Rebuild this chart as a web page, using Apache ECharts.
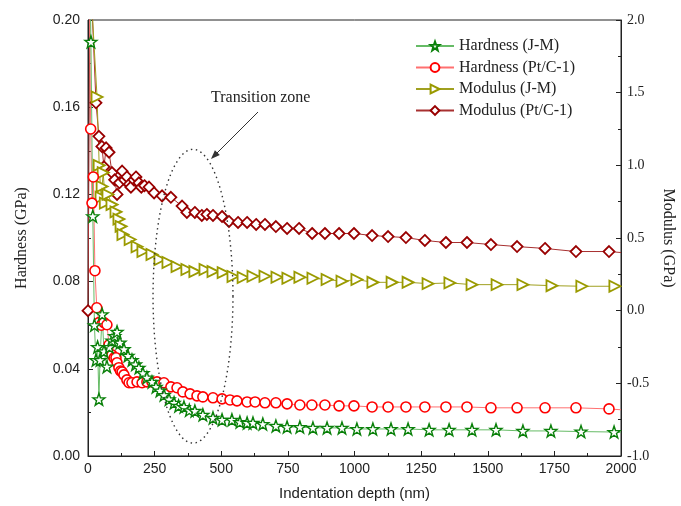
<!DOCTYPE html>
<html>
<head>
<meta charset="utf-8">
<script src="https://cdn.jsdelivr.net/npm/echarts@6/dist/echarts.min.js"></script>
<style>
  html, body { margin: 0; padding: 0; background: #fff; }
  #chart { width: 681px; height: 506px; }
</style>
</head>
<body>
<div id="chart"></div>
<script>
// depth (nm) / value pairs
var depthHardJM = [3, 11, 18, 24, 30, 36, 41, 45, 53, 60, 71, 80, 90, 100, 109, 120, 135, 150, 165, 178, 191, 206, 221, 240, 255, 270, 285, 304, 323, 340, 360, 380, 401, 431, 469, 503, 540, 570, 597, 619, 656, 705, 747, 795, 844, 897, 953, 1009, 1069, 1137, 1201, 1280, 1355, 1441, 1531, 1632, 1737, 1850, 1974, 2000]
var hardJM = [0.26, 0.190, 0.11, 0.06, 0.044, 0.05, 0.026, 0.044, 0.065, 0.048, 0.041, 0.050, 0.053, 0.055, 0.057, 0.052, 0.049, 0.046, 0.044, 0.042, 0.0405, 0.038, 0.036, 0.034, 0.0317, 0.030, 0.028, 0.026, 0.0244, 0.023, 0.0225, 0.021, 0.0207, 0.0189, 0.0175, 0.0166, 0.0166, 0.0156, 0.0152, 0.0152, 0.0147, 0.0138, 0.0133, 0.0133, 0.0129, 0.0129, 0.0129, 0.0124, 0.0124, 0.0124, 0.0124, 0.0120, 0.0120, 0.0120, 0.0120, 0.0115, 0.0115, 0.0112, 0.0110, 0.0108]

var depthHardPt = [2, 10, 15, 20, 26, 33, 41, 50, 60, 71, 79, 90, 98, 105, 109, 116, 122, 128, 135, 146, 154, 165, 184, 203, 221, 240, 259, 285, 311, 334, 356, 383, 409, 431, 469, 503, 533, 559, 597, 627, 664, 705, 747, 795, 840, 889, 942, 998, 1066, 1126, 1193, 1264, 1343, 1422, 1512, 1610, 1715, 1831, 1955, 2000]
var hardPt = [0.26, 0.15, 0.116, 0.128, 0.085, 0.068, 0.0612, 0.060, 0.0612, 0.0602, 0.051, 0.0464, 0.045, 0.0451, 0.0428, 0.0405, 0.039, 0.0386, 0.0372, 0.0349, 0.0336, 0.0336, 0.034, 0.0336, 0.034, 0.034, 0.034, 0.0336, 0.0317, 0.0313, 0.0294, 0.0285, 0.0276, 0.0271, 0.0267, 0.0262, 0.0257, 0.0253, 0.0248, 0.0248, 0.0244, 0.0244, 0.0239, 0.0234, 0.0234, 0.0234, 0.0230, 0.0230, 0.0225, 0.0225, 0.0225, 0.0225, 0.0225, 0.0225, 0.0221, 0.0221, 0.0221, 0.0221, 0.0216, 0.0212]

var depthModJM = [5, 34, 42, 49, 53, 57, 65, 75, 90, 105, 116, 124, 131, 158, 184, 206, 240, 270, 300, 334, 371, 401, 439, 469, 507, 544, 582, 619, 664, 709, 750, 795, 844, 897, 953, 1009, 1069, 1141, 1201, 1276, 1358, 1441, 1535, 1632, 1741, 1853, 1977, 2000]
var modJM = [2.4, 1.47, 1.0, 0.78, 0.855, 0.95, 0.74, 0.80, 0.73, 0.68, 0.63, 0.58, 0.524, 0.49, 0.44, 0.407, 0.386, 0.352, 0.331, 0.303, 0.283, 0.269, 0.283, 0.269, 0.262, 0.235, 0.228, 0.237, 0.237, 0.230, 0.223, 0.230, 0.223, 0.214, 0.203, 0.214, 0.195, 0.195, 0.195, 0.186, 0.191, 0.179, 0.179, 0.179, 0.172, 0.168, 0.168, 0.17]

var depthModPt = [0, 8, 30, 41, 52, 60, 68, 79, 90, 100, 109, 118, 128, 137, 146, 155, 161, 172, 180, 191, 200, 212, 229, 248, 278, 311, 353, 371, 401, 427, 446, 469, 503, 529, 563, 597, 631, 664, 705, 747, 792, 841, 889, 942, 998, 1066, 1126, 1193, 1264, 1343, 1422, 1512, 1610, 1715, 1831, 1955, 2000]
var modPt = [0.0, 2.4, 1.43, 1.20, 1.13, 0.99, 1.12, 1.09, 0.95, 0.90, 0.80, 0.88, 0.96, 0.90, 0.92, 0.87, 0.85, 0.90, 0.92, 0.88, 0.85, 0.86, 0.85, 0.81, 0.79, 0.78, 0.72, 0.676, 0.676, 0.655, 0.662, 0.655, 0.648, 0.614, 0.607, 0.607, 0.593, 0.593, 0.579, 0.566, 0.566, 0.531, 0.531, 0.531, 0.531, 0.517, 0.510, 0.503, 0.483, 0.469, 0.469, 0.455, 0.441, 0.428, 0.407, 0.407, 0.40]

var seriesNames = ['Hardness (J-M)', 'Hardness (Pt/C-1)', 'Modulus (J-M)', 'Modulus (Pt/C-1)']

// last point of each curve is only the line running out to the frame
function pairs(xs, ys) {
    let out = []
    for (let i = 0; i < xs.length; i++) {
        if (i == xs.length - 1) out.push({value: [xs[i], ys[i]], symbol: 'none'})
        else out.push([xs[i], ys[i]])
    }
    return out
}

var star = 'path://M0,-10 L2.35,-3.24 9.51,-3.09 3.8,1.24 5.88,8.09 0,4 -5.88,8.09 -3.8,1.24 -9.51,-3.09 -2.35,-3.24Z'
var serif = 'Liberation Serif'
var sans = 'Liberation Sans'

function mkSeries(name, data, yIdx, symbol, size, rotate, mark, line, bw) {
    return {
        name: name,
        type: 'line',
        yAxisIndex: yIdx,
        data: data,
        symbol: symbol,
        symbolSize: size,
        symbolRotate: rotate,
        showAllSymbol: true,
        clip: true,
        color: mark,
        lineStyle: {width: 1, color: line},
        itemStyle: {color: '#fff', borderColor: mark, borderWidth: bw}
    }
}

let myChart = echarts.init(document.getElementById('chart'))
let option = {
    animation: false,
    grid: {left: 88, right: 60, top: 20, bottom: 50, outerBoundsMode: 'none', show: true, borderColor: '#222', borderWidth: 1},
    legend: {
        orient: 'vertical',
        left: 410,
        top: 33,
        itemWidth: 38,
        itemHeight: 11,
        itemGap: 5.5,
        data: seriesNames,
        itemStyle: {color: '#fff'},
        textStyle: {fontFamily: serif, fontSize: 16, color: '#222'}
    },
    xAxis: {
        type: 'value',
        min: 0,
        max: 2000,
        interval: 250,
        name: 'Indentation depth (nm)',
        nameLocation: 'middle',
        nameGap: 30,
        nameTextStyle: {fontFamily: sans, fontSize: 15, color: '#222'},
        axisLine: {lineStyle: {color: '#222'}},
        axisTick: {inside: true, length: 5, lineStyle: {color: '#222'}},
        minorTick: {show: true, splitNumber: 2, length: 3, lineStyle: {color: '#222'}},
        axisLabel: {fontFamily: sans, fontSize: 14, color: '#222', margin: 6, formatter: v => String(v)},
        splitLine: {show: false}
    },
    yAxis: [{
        type: 'value',
        min: 0,
        max: 0.2,
        interval: 0.04,
        name: 'Hardness (GPa)',
        nameLocation: 'middle',
        nameGap: 58,
        nameTextStyle: {fontFamily: serif, fontSize: 16, color: '#222'},
        axisLine: {show: true, lineStyle: {color: '#222'}},
        axisTick: {show: true, inside: true, length: 5, lineStyle: {color: '#222'}},
        minorTick: {show: true, splitNumber: 2, length: 3, lineStyle: {color: '#222'}},
        axisLabel: {fontFamily: sans, fontSize: 14, color: '#222', margin: 8, formatter: v => v.toFixed(2)},
        splitLine: {show: false}
    }, {
        type: 'value',
        position: 'right',
        min: -1,
        max: 2,
        interval: 0.5,
        name: 'Modulus (GPa)',
        nameLocation: 'middle',
        nameRotate: -90,
        nameGap: 38,
        nameTextStyle: {fontFamily: serif, fontSize: 16, color: '#222'},
        axisLine: {show: true, lineStyle: {color: '#222'}},
        axisTick: {show: true, inside: true, length: 5, lineStyle: {color: '#222'}},
        minorTick: {show: true, splitNumber: 2, length: 3, lineStyle: {color: '#222'}},
        axisLabel: {fontFamily: serif, fontSize: 14, color: '#222', margin: 6, formatter: v => v.toFixed(1)},
        splitLine: {show: false}
    }],
    series: [
        mkSeries(seriesNames[3], pairs(depthModPt, modPt), 1, 'diamond', 11, 0, '#990000', '#a83030', 1.8),
        mkSeries(seriesNames[2], pairs(depthModJM, modJM), 1, 'triangle', 11, -90, '#9a9a00', '#a0a020', 1.8),
        mkSeries(seriesNames[1], pairs(depthHardPt, hardPt), 0, 'circle', 10, 0, '#ff0000', '#ff7070', 1.6),
        mkSeries(seriesNames[0], pairs(depthHardJM, hardJM), 0, star, 12, 0, '#0a800a', '#66bb66', 1.4)
    ]
}
myChart.setOption(option)

// transition zone annotation: dotted ellipse around ~400 nm, arrow and label
function annotate() {
    let c = myChart.convertToPixel({gridIndex: 0}, [394, 0.0733])
    let e = myChart.convertToPixel({gridIndex: 0}, [394 + 150, 0.0733 + 0.0674])
    let rx = e[0] - c[0], ry = c[1] - e[1]
    let pts = []
    for (let i = 0; i <= 96; i++) {
        let t = i / 96 * Math.PI * 2
        pts.push([c[0] + rx * Math.cos(t), c[1] + ry * Math.sin(t)])
    }
    let a0 = [258, 112], a1 = [211, 159]
    let dx = a1[0] - a0[0], dy = a1[1] - a0[1]
    let len = Math.sqrt(dx * dx + dy * dy)
    let ux = dx / len, uy = dy / len
    let head = [
        a1,
        [a1[0] - ux * 9 - uy * 3.5, a1[1] - uy * 9 + ux * 3.5],
        [a1[0] - ux * 9 + uy * 3.5, a1[1] - uy * 9 - ux * 3.5]
    ]
    myChart.setOption({
        graphic: [
            {type: 'polyline', shape: {points: pts}, style: {fill: null, stroke: '#333', lineWidth: 1.4, lineDash: [1.5, 3.5]}, z: 50},
            {type: 'line', shape: {x1: a0[0], y1: a0[1], x2: a1[0] - ux * 6, y2: a1[1] - uy * 6}, style: {stroke: '#333', lineWidth: 1}, z: 50},
            {type: 'polygon', shape: {points: head}, style: {fill: '#333'}, z: 50},
            {type: 'text', left: 211, top: 90, style: {text: 'Transition zone', font: '16px "Liberation Serif"', fill: '#222'}, z: 50}
        ]
    })
}
annotate()
</script>
</body>
</html>
